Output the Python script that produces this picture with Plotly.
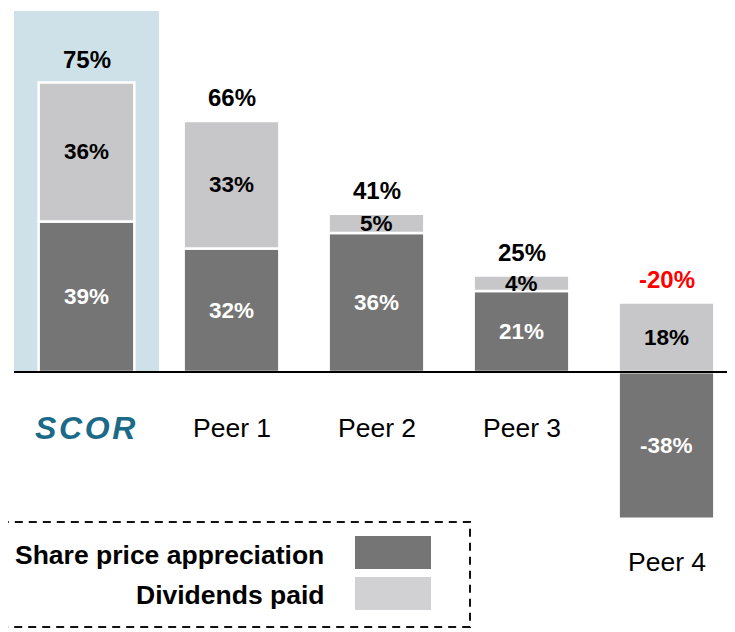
import plotly.graph_objects as go

categories = ["SCOR", "Peer 1", "Peer 2", "Peer 3", "Peer 4"]
share_price = [39, 32, 36, 21, -38]
dividends = [36, 33, 5, 4, 18]
totals = [75, 66, 41, 25, -20]
series_names = ["Share price appreciation", "Dividends paid"]

DARK = "#757575"
LIGHT = "#c7c7c9"
LEG_LIGHT = "#d1d1d3"
FONT = "Liberation Sans, Arial, sans-serif"

# page has an 8px body margin; figure is sized so it fits the 735x632 window
OFF = 8
W, H = 735 - OFF, 632 - OFF


def PX(x):
    return (x - OFF) / W


def PY(y):
    return 1 - (y - OFF) / H


fig = go.Figure()
fig.add_trace(go.Bar(x=categories, y=share_price, name=series_names[0], width=0.66,
                     marker=dict(color=DARK, line=dict(color="white", width=2.5)),
                     hoverinfo="skip"))
fig.add_trace(go.Bar(x=categories, y=dividends, name=series_names[1], width=0.66,
                     marker=dict(color=LIGHT, line=dict(color="white", width=2.5)),
                     hoverinfo="skip"))

ann = []
for i, cat in enumerate(categories):
    sp, dv, tot = share_price[i], dividends[i], totals[i]
    pos_base = sp if sp >= 0 else 0
    sp_mid = sp / 2
    dv_mid = pos_base + dv / 2
    top = pos_base + dv
    ann.append(dict(x=cat, y=sp_mid, text=f"<b>{sp}%</b>", showarrow=False,
                    font=dict(family=FONT, size=22.5, color="white")))
    ann.append(dict(x=cat, y=dv_mid, text=f"<b>{dv}%</b>", showarrow=False,
                    font=dict(family=FONT, size=22.5, color="black")))
    ann.append(dict(x=cat, y=top, text=f"<b>{tot}%</b>", showarrow=False,
                    yanchor="bottom", yshift=8,
                    font=dict(family=FONT, size=24, color="black" if tot >= 0 else "#ff0000")))
    if cat == "SCOR":
        ann.append(dict(x=cat, y=0, text="<b><i>S\u200aC\u200aO\u200aR</i></b>", showarrow=False,
                        yanchor="middle", yshift=-56, xshift=-2,
                        font=dict(family=FONT, size=32, color="#1b6a88")))
    elif sp < 0:
        ann.append(dict(x=cat, y=sp, text=cat, showarrow=False,
                        yanchor="middle", yshift=-43,
                        font=dict(family=FONT, size=26.5, color="black")))
    else:
        ann.append(dict(x=cat, y=0, text=cat, showarrow=False,
                        yanchor="middle", yshift=-56,
                        font=dict(family=FONT, size=26.5, color="black")))

# legend texts
ann.append(dict(xref="paper", yref="paper", x=PX(326), y=PY(555), xanchor="right",
                yanchor="middle", text=f"<b>{series_names[0]}</b>", showarrow=False,
                font=dict(family=FONT, size=26.5, color="black")))
ann.append(dict(xref="paper", yref="paper", x=PX(326), y=PY(595), xanchor="right",
                yanchor="middle", text=f"<b>{series_names[1]}</b>", showarrow=False,
                font=dict(family=FONT, size=26.5, color="black")))

shapes = [
    dict(type="rect", xref="x", yref="paper", x0=-0.5, x1=0.5, y0=PY(372), y1=PY(11),
         fillcolor="#cee1e8", line=dict(width=0), layer="below"),
    dict(type="line", xref="x", yref="y", x0=-0.5, x1=4.6, y0=0, y1=0,
         line=dict(color="black", width=2), layer="above"),
    dict(type="rect", xref="paper", yref="paper", x0=-0.03, x1=PX(470),
         y0=PY(627), y1=PY(522),
         line=dict(color="#111", width=2, dash="8px,6px"), fillcolor="rgba(0,0,0,0)"),
    dict(type="rect", xref="paper", yref="paper", x0=PX(355), x1=PX(431),
         y0=PY(569), y1=PY(536), fillcolor=DARK, line=dict(width=0)),
    dict(type="rect", xref="paper", yref="paper", x0=PX(355), x1=PX(431),
         y0=PY(610), y1=PY(577), fillcolor=LEG_LIGHT, line=dict(width=0)),
]

px_per = 3.86
zero_y = 372 - OFF
center0 = 86.5 - OFF
fig.update_layout(
    width=W, height=H, autosize=False,
    margin=dict(l=0, r=0, t=0, b=0),
    barmode="relative",
    showlegend=False,
    plot_bgcolor="white", paper_bgcolor="white",
    xaxis=dict(range=[-center0 / 145, (W - center0) / 145], visible=False),
    yaxis=dict(range=[-(H - zero_y) / px_per, zero_y / px_per], visible=False),
    annotations=ann, shapes=shapes,
    font=dict(family=FONT),
)

fig.write_html("out.html")
